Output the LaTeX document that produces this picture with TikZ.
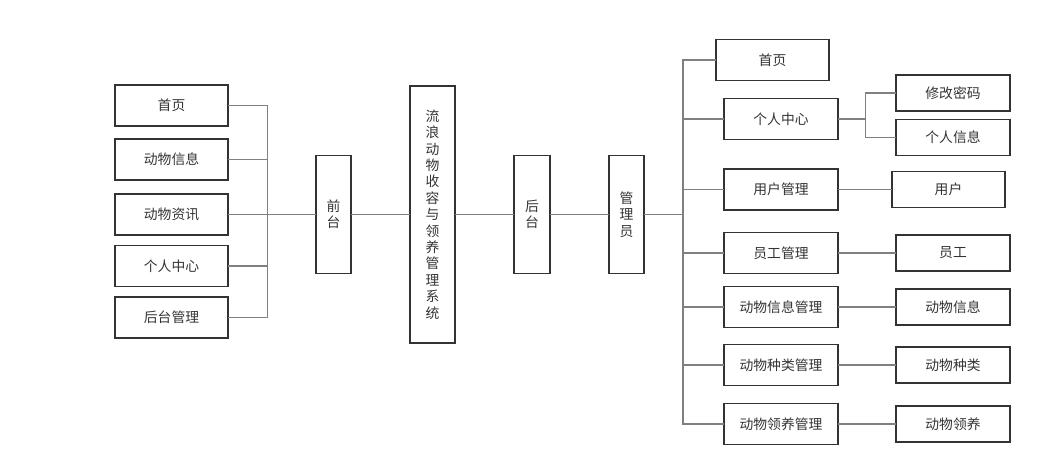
\documentclass[tikz,border=0pt]{standalone}
\usepackage{fontspec}
\setmainfont{Noto Sans CJK SC}
\usepackage{tikz}
\usetikzlibrary{positioning}
\definecolor{boxline}{HTML}{333333}
\definecolor{linkline}{HTML}{808080}
\definecolor{textgray}{HTML}{333333}

\begin{document}
\begin{tikzpicture}[x=1pt,y=-1pt,node distance=59pt,
	box/.style={shape=rectangle,draw=boxline,line width=1.1pt,text=textgray,inner sep=0pt,outer sep=0pt,
		font=\fontsize{13.8pt}{16.4pt}\selectfont,minimum width=113pt,minimum height=41pt},
	sub/.style={box,minimum width=114pt,minimum height=36pt},
	vbox/.style={box,align=center,minimum width=35pt,minimum height=118pt},
	link/.style={draw=linkline,line width=1.1pt}]
	\useasboundingbox (0,0) rectangle (1039,461);

	% create the main chain
	\node[vbox] (front) at (333.5,214.5) {前\\台};
	\node[vbox,minimum width=45pt,minimum height=257pt] (sys) [right = of front] {流\\浪\\动\\物\\收\\容\\与\\领\\养\\管\\理\\系\\统};
	\node[vbox,minimum width=36pt] (back) [right = of sys] {后\\台};
	\node[vbox] (admin) [right = of back] {管\\理\\员};

	% create the front pages
	\node[box] (lnews) [left = 88pt of front] {动物资讯};
	\node[box] (linfo) [above = 14pt of lnews] {动物信息};
	\node[box] (lhome) [above = 13pt of linfo] {首页};
	\node[box] (lcenter) [below = 10.5pt of lnews] {个人中心};
	\node[box] (ladmin) [below = 10.5pt of lcenter] {后台管理};

	% create the admin pages
	\node[box] (rhome) at (772.5,60) {首页};
	\node[box,minimum width=114pt] (rcenter) [below = 18pt of rhome,xshift=8.5pt] {个人中心};
	\node[box,minimum width=114pt] (ruser) [below = 29.5pt of rcenter] {用户管理};
	\node[box,minimum width=114pt] (rstaff) [below = 22.5pt of ruser] {员工管理};
	\node[box,minimum width=114pt] (rinfo) [below = 13pt of rstaff] {动物信息管理};
	\node[box,minimum width=114pt] (rkind) [below = 17pt of rinfo] {动物种类管理};
	\node[box,minimum width=114pt] (radopt) [below = 18pt of rkind] {动物领养管理};

	% create the sub pages
	\node[sub] (spwd) [right = 58pt of rcenter,yshift=26pt] {修改密码};
	\node[sub] (sinfo) [below = 8.5pt of spwd] {个人信息};
	\node[sub,minimum width=113pt] (suser) [right = 54pt of ruser] {用户};
	\node[sub] (sstaff) [right = 58pt of rstaff] {员工};
	\node[sub] (sainfo) [right = 58pt of rinfo] {动物信息};
	\node[sub] (skind) [right = 58pt of rkind] {动物种类};
	\node[sub] (sadopt) [right = 58pt of radopt] {动物领养};

	% bus points
	\coordinate (lbus) at (267.5,214.5);
	\coordinate (rbus) at (683,214.5);
	\coordinate (pcbus) at (865.5,119);

	% connections
	\foreach \n in {lhome,linfo,lcenter,ladmin}
		\draw[link] (\n.east) -| (lbus);
	\draw[link] (lnews) to (front);
	\draw[link] (front) to (sys);
	\draw[link] (sys) to (back);
	\draw[link] (back) to (admin);
	\draw[link] (admin) to (rbus);
	\foreach \n in {rhome,rcenter,ruser,rstaff,rinfo,rkind,radopt}
		\draw[link] (rbus) |- (\n.west);
	\draw[link] (rcenter) to (pcbus);
	\draw[link] (spwd.west) -| (pcbus) |- (sinfo.west);
	\draw[link] (ruser) to (suser);
	\draw[link] (rstaff) to (sstaff);
	\draw[link] (rinfo) to (sainfo);
	\draw[link] (rkind) to (skind);
	\draw[link] (radopt) to (sadopt);

\end{tikzpicture}
\end{document}
